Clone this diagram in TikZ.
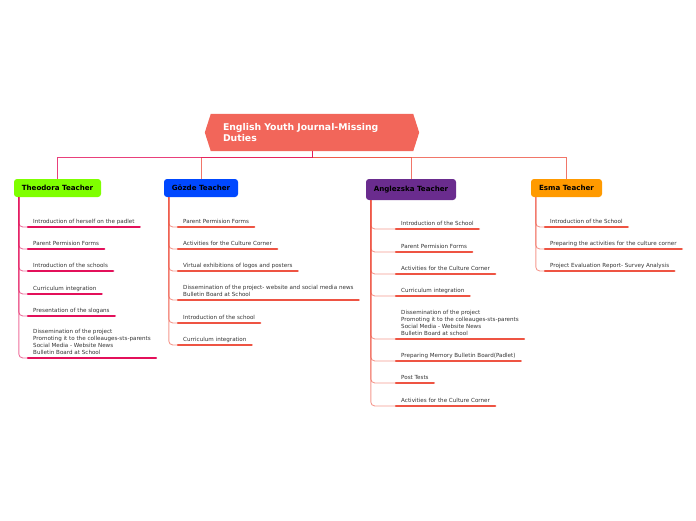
\documentclass[tikz,border=0pt]{standalone}
\usepackage{fontspec}
\setmainfont{DejaVu Sans}
\usetikzlibrary{calc}
\usetikzlibrary{backgrounds}

\definecolor{rootred}{HTML}{F2665A}
\definecolor{crimson}{HTML}{E3105A}
\definecolor{tomato}{HTML}{EE5443}
\definecolor{limegreen}{HTML}{7FFF00}
\definecolor{gozdeblue}{HTML}{0048FF}
\definecolor{anpurple}{HTML}{6A2C8E}
\definecolor{esorange}{HTML}{FF9A00}

\tikzset{
 teacher/.style={rounded corners=3pt, minimum height=18pt, inner sep=0pt, font=\fontsize{7.1}{8}\selectfont\bfseries},
 item/.style={anchor=south west, inner xsep=5pt, inner ysep=2.5pt, text depth=1.2pt, align=left, font=\fontsize{5.6}{7}\selectfont, text=black!80},
 uline/.style={line width=2.4pt, line cap=round},
 conn/.style={line width=0.9pt, rounded corners=4pt, opacity=0.6},
}

\begin{document}
\begin{tikzpicture}[x=1pt,y=-1pt]
\useasboundingbox (0,0) rectangle (696,520);
% root
\node[minimum width=202pt, minimum height=37pt, text width=178pt, inner xsep=12pt, align=left, text=white, font=\fontsize{9.3}{11}\selectfont\bfseries] (root) at (312,132.5) {English Youth Journal-Missing\\Duties};
\begin{scope}[on background layer]
\fill[rootred] (root.north west) -- (root.north east) -- ([xshift=6pt]root.east) -- (root.south east) -- (root.south west) -- ([xshift=-6pt]root.west) -- cycle;
\end{scope}

% teachers
\node[teacher, fill=limegreen, minimum width=87pt] (th) at (57.5,188) {Theodora Teacher};
\node[teacher, fill=gozdeblue, minimum width=74pt] (gz) at (201,188) {Gözde Teacher};
\node[teacher, fill=anpurple, minimum width=90pt, minimum height=21pt] (an) at (411,189.5) {Anglezska Teacher};
\node[teacher, fill=esorange, minimum width=71pt] (es) at (566.5,188) {Esma Teacher};

\foreach \t in {gz,an,es}
 \draw[tomato, line width=.8pt, opacity=.8] (root.south) -- ++(0,6) -| (\t.north);
\draw[crimson, line width=.8pt, opacity=.8] (root.south) -- ++(0,6) -| (th.north);

% Theodora
\foreach \y/\txt [count=\i] in {227/{Introduction of herself on the padlet}, 249/{Parent Permision Forms}, 271/{Introduction of the schools}, 294/{Curriculum integration}, 316/{Presentation of the slogans}, 358/{Dissemination of the project\\Promoting it to the colleauges-sts-parents\\Social Media - Website News\\Bulletin Board at School}} {
 \node[item] (th-\i) at (28,\y) {\txt};
 \draw[crimson, uline] (th-\i.south west) -- (th-\i.south east);
 \draw[crimson, conn] ([xshift=5pt]th.south west) |- (th-\i.south west);
}

% Gozde
\foreach \y/\txt [count=\i] in {227/{Parent Permision Forms}, 249/{Activities for the Culture Corner}, 271/{Virtual exhibitions of logos and posters}, 300/{Dissemination of the project- website and social media news\\Bulletin Board at School}, 323/{Introduction of the school}, 345/{Curriculum integration}} {
 \node[item] (gz-\i) at (178,\y) {\txt};
 \draw[tomato, uline] (gz-\i.south west) -- (gz-\i.south east);
 \draw[tomato, conn] ([xshift=5pt]gz.south west) |- (gz-\i.south west);
}

% Anglezska
\foreach \y/\txt [count=\i] in {229/{Introduction of the School}, 252/{Parent Permision Forms}, 274/{Activities for the Culture Corner}, 296/{Curriculum integration}, 339/{Dissemination of the project\\Promoting it to the colleauges-sts-parents\\Social Media - Website News\\Bulletin Board at school}, 361/{Preparing Memory Bulletin Board(Padlet)}, 383/{Post Tests}, 406/{Activities for the Culture Corner}} {
 \node[item] (an-\i) at (396,\y) {\txt};
 \draw[tomato, uline] (an-\i.south west) -- (an-\i.south east);
 \draw[tomato, conn] ([xshift=5pt]an.south west) |- (an-\i.south west);
}

% Esma
\foreach \y/\txt [count=\i] in {227/{Introduction of the School}, 249/{Preparing the activities for the culture corner}, 271/{Project Evaluation Report- Survey Analysis}} {
 \node[item] (es-\i) at (545,\y) {\txt};
 \draw[tomato, uline] (es-\i.south west) -- (es-\i.south east);
 \draw[tomato, conn] ([xshift=5pt]es.south west) |- (es-\i.south west);
}
\end{tikzpicture}
\end{document}
